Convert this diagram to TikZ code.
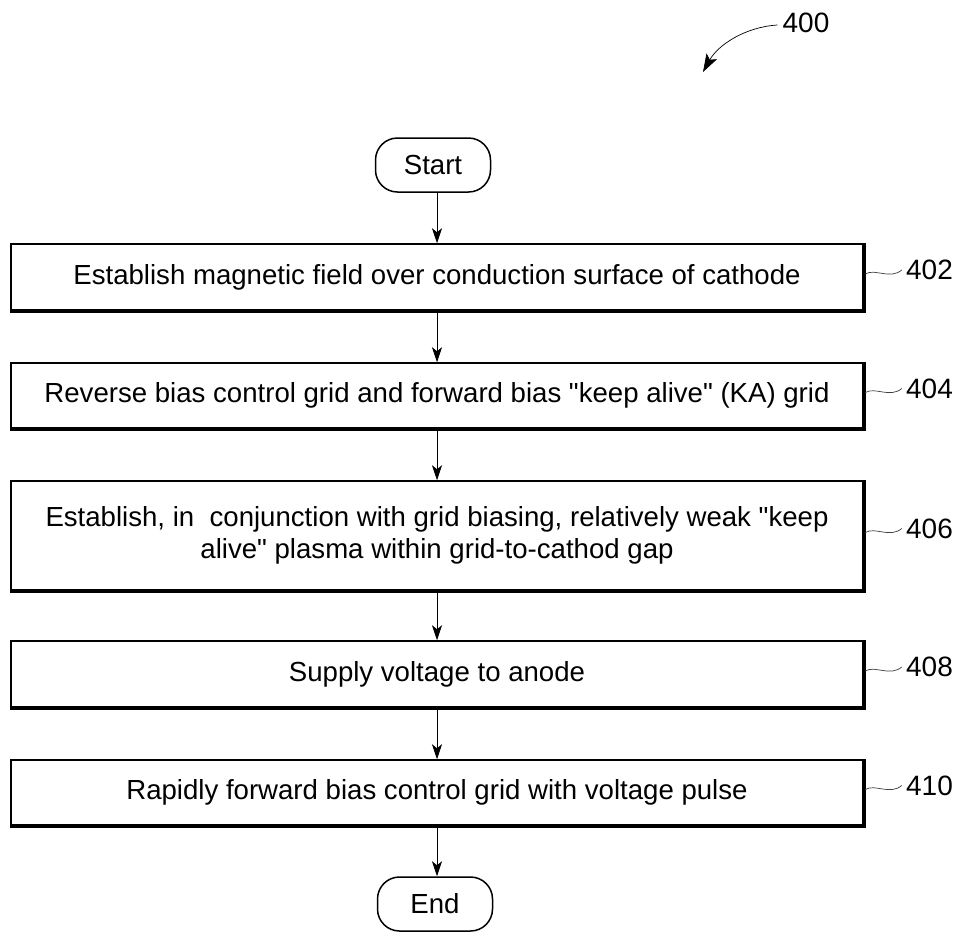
\documentclass[tikz,border=0pt]{standalone}
\usepackage{fontspec}
\setmainfont{Liberation Sans}
\usetikzlibrary{arrows.meta}
\newcommand{\dq}{\textquotedbl}
\begin{document}
\begin{tikzpicture}[x=1pt,y=-1pt,
  stepbox/.style={draw, line width=1.5pt, minimum width=852pt, align=center,
    font=\fontsize{27.6}{32}\selectfont, inner sep=0pt},
  term/.style={draw, line width=1.5pt, rounded corners=22pt, minimum width=115pt,
    minimum height=54pt, font=\fontsize{27.6}{32}\selectfont, inner sep=0pt},
  flow/.style={-{Stealth[length=15pt,width=10pt,inset=4pt]}, line width=0.9pt},
  reflabel/.style={font=\fontsize{28}{30}\selectfont, anchor=west, inner sep=0pt},
  wave/.style={line width=0.7pt, draw=black!75},
  shade/.style={line width=1.6pt}
]
\useasboundingbox (0,0) rectangle (957,932);

\node[term] (start) at (433,165) {Start};
\node[stepbox, minimum height=66pt] (b402) at (437,277) {Establish magnetic field over conduction surface of cathode};
\node[stepbox, minimum height=65pt] (b404) at (437,395.5) {Reverse bias control grid and forward bias \dq keep alive\dq{} (KA) grid};
\node[stepbox, minimum height=109pt] (b406) at (437,535.5) {Establish, in~ conjunction with grid biasing, relatively weak \dq keep\\alive\dq{} plasma within grid-to-cathod gap};
\node[stepbox, minimum height=66pt] (b408) at (437,674) {Supply voltage to anode};
\node[stepbox, minimum height=65pt] (b410) at (437,792.5) {Rapidly forward bias control grid with voltage pulse};
\node[term] (end) at (435,904) {End};

\foreach \n in {b402,b404,b406,b408,b410}{
  \draw[shade] ([yshift=-1pt]\n.south west) -- ([shift={(1pt,-1pt)}]\n.south east) -- ([xshift=1pt]\n.north east);
}

\draw[flow] (start.south -| b402.north) -- (b402.north);
\draw[flow] (b402) -- (b404);
\draw[flow] (b404) -- (b406);
\draw[flow] (b406) -- (b408);
\draw[flow] (b408) -- (b410);
\draw[flow] (b410.south) -- (b410.south |- end.north);

\foreach \n/\l in {b402/402,b404/404,b406/406,b408/408,b410/410}{
  \draw[wave] ([shift={(1.5pt,3pt)}]\n.east) .. controls +(10pt,6pt) and +(-12pt,-10pt) .. ([shift={(38pt,7pt)}]\n.east)
    node[reflabel, xshift=4pt] (l\l) {\l};
}

\node[reflabel, anchor=center] (l400) at (806,23) {400};
\coordinate (a400) at (703,72);
\draw[wave, -{Stealth[length=18pt,width=12pt,inset=4pt]}, draw=black] ([xshift=-5pt,yshift=-2pt]l400.west) .. controls (745,27) and (718,45) .. (a400);
\end{tikzpicture}
\end{document}
